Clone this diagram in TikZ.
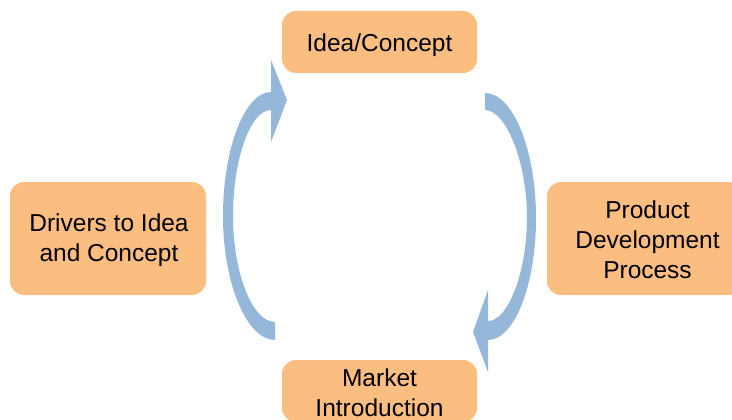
\documentclass[tikz,border=0pt]{standalone}
\usepackage{fontspec}
\setmainfont{Liberation Sans}
\definecolor{boxfill}{RGB}{251,190,128}
\definecolor{arrowfill}{RGB}{149,183,218}
\begin{document}
\begin{tikzpicture}[x=1pt,y=-1pt,
  box/.style={fill=boxfill, rounded corners=14pt, inner sep=0pt},
  lbl/.style={align=center, font=\fontsize{24.5}{30}\selectfont, inner sep=0pt},
  cyc/.style={fill=arrowfill, draw=none}]
\useasboundingbox (0,0) rectangle (732,420);
\fill[white] (0,0) rectangle (732,420);
\node[box, minimum width=195pt, minimum height=62pt] (idea) at (379.5,42) {};
\node[box, minimum width=196pt, minimum height=113pt] (drivers) at (108,238.5) {};
\node[box, minimum width=195pt, minimum height=113pt] (pdp) at (644.5,238.5) {};
\node[box, minimum width=195pt, minimum height=62pt] (market) at (379.5,391) {};
\node[lbl] (ideat) at ([yshift=-3.5pt]idea.center) {Idea/Concept};
\node[lbl] (driverst) at ([xshift=1pt,yshift=-2pt]drivers.center) {Drivers to Idea\\and Concept};
\node[lbl] (pdpt) at ([xshift=3pt,yshift=-1.5pt]pdp.center) {Product\\Development\\Process};
\node[lbl] (markett) at ([yshift=-2pt]market.center) {Market\\Introduction};
% left curved arrow (up to Idea/Concept)
\fill[cyc] (275,340) .. controls (247,340) and (223,284) .. (223,216)
  .. controls (223,148) and (245,92) .. (271,92) -- (271,60) -- (287,100) -- (271,142) -- (271,110)
  .. controls (250,110) and (233,160) .. (233,216)
  .. controls (233,272) and (252,322) .. (275,322) -- cycle;
% right curved arrow (down to Market Introduction)
\fill[cyc] (485,93) .. controls (513,93) and (536,150) .. (536,218)
  .. controls (536,286) and (514,340) .. (488,340) -- (488,372) -- (473,332) -- (488,290) -- (488,321)
  .. controls (508,321) and (527,272) .. (527,218)
  .. controls (527,162) and (506,110) .. (485,110) -- cycle;
\end{tikzpicture}
\end{document}
